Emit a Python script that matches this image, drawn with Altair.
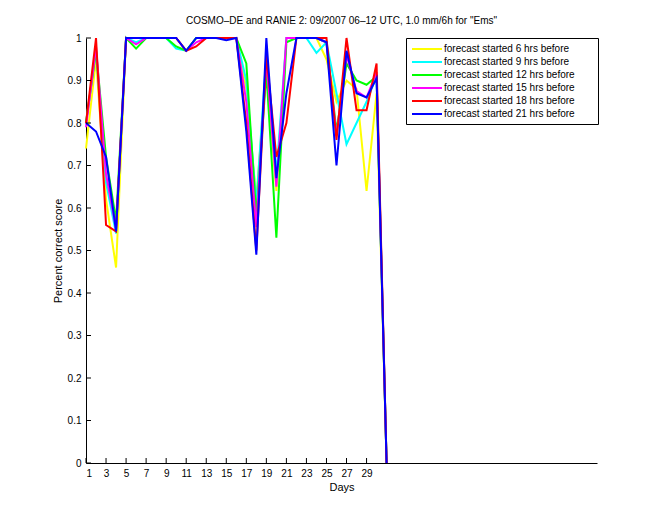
import altair as alt
import pandas as pd

days = list(range(1, 32))
series_names = [
    "forecast started 6 hrs before",
    "forecast started 9 hrs before",
    "forecast started 12 hrs before",
    "forecast started 15 hrs before",
    "forecast started 18 hrs before",
    "forecast started 21 hrs before",
]
colors = ["#ffff00", "#00ffff", "#00ff00", "#ff00ff", "#ff0000", "#0000ff"]

s6 = [0.74, 0.95, 0.62, 0.46, 1, 1, 1, 1, 1, 1, 0.97, 1, 1, 1, 1, 1, 0.88, 0.62, 0.93, 0.64, 1, 1, 1, 1, 0.95, 0.85, 0.9, 0.88, 0.64, 0.87, 0]
s9 = [0.8, 0.97, 0.66, 0.54, 1, 0.99, 1, 1, 1, 0.975, 0.97, 1, 1, 1, 1, 1, 0.9, 0.61, 0.96, 0.68, 1, 1, 1, 0.965, 0.99, 0.87, 0.75, 0.8, 0.85, 0.91, 0]
s12 = [0.8, 0.97, 0.72, 0.57, 1, 0.975, 1, 1, 1, 0.98, 0.97, 1, 1, 1, 1, 1, 0.94, 0.58, 0.92, 0.53, 0.99, 1, 1, 1, 0.99, 0.78, 0.94, 0.9, 0.89, 0.91, 0]
s15 = [0.79, 0.98, 0.68, 0.55, 1, 0.985, 1, 1, 1, 1, 0.97, 0.99, 1, 1, 1, 1, 0.85, 0.555, 0.95, 0.65, 1, 1, 1, 1, 0.99, 0.77, 0.96, 0.875, 0.86, 0.92, 0]
s18 = [0.8, 1.0, 0.56, 0.545, 1, 1, 1, 1, 1, 1, 0.97, 0.98, 1, 1, 1, 1, 0.8, 0.5, 0.96, 0.72, 0.8, 1, 1, 1, 1, 0.76, 1.0, 0.83, 0.83, 0.94, 0]
s21 = [0.8, 0.78, 0.72, 0.545, 1, 1, 1, 1, 1, 1, 0.97, 1, 1, 1, 0.995, 1, 0.78, 0.49, 1.0, 0.67, 0.87, 1, 1, 1, 0.99, 0.70, 0.97, 0.87, 0.86, 0.905, 0]

x_tick_values = list(range(1, 30, 2))
y_tick_values = [round(i * 0.1, 1) for i in range(11)]

rows = []
for name, vals in zip(series_names, [s6, s9, s12, s15, s18, s21]):
    for d, v in zip(days, vals):
        rows.append({"day": d, "score": v, "series": name})
df = pd.DataFrame(rows)
df["order"] = df["series"].map({n: i for i, n in enumerate(series_names)})

W, H = 511, 425
FONT = "Liberation Sans"

xscale = alt.Scale(domain=[1, 52], nice=False, zero=False)
yscale = alt.Scale(domain=[0, 1], nice=False)

x_enc = alt.X("day:Q", scale=xscale, title="Days",
              axis=alt.Axis(values=x_tick_values, ticks=False, labelPadding=5,
                            titlePadding=3, format="d"))
y_enc = alt.Y("score:Q", scale=yscale, title="Percent correct score",
              axis=alt.Axis(values=y_tick_values, ticks=False, labelPadding=5,
                            titlePadding=4, format="~g"))

lines = alt.Chart(df).mark_line(strokeWidth=2).encode(
    x=x_enc,
    y=y_enc,
    color=alt.Color("series:N", sort=series_names,
                    scale=alt.Scale(domain=series_names, range=colors),
                    legend=alt.Legend(title=None, orient="none", legendX=320, legendY=0,
                                      symbolType="M-3,0H3M32.4,0", symbolSize=100, symbolStrokeWidth=2,
                                      symbolOffset=10,
                                      labelFontSize=10, labelFont=FONT, labelOffset=11,
                                      padding=5, rowPadding=2, strokeColor="black",
                                      fillColor="white", cornerRadius=0)),
    detail="series:N",
    order=alt.Order("order:Q"),
)

xt = pd.DataFrame({"day": x_tick_values})
yt = pd.DataFrame({"score": y_tick_values})

xticks = alt.Chart(xt).mark_rule(color="black", strokeWidth=1).encode(
    x=x_enc,
    y=alt.value(H), y2=alt.value(H - 5),
)
yticks = alt.Chart(yt).mark_rule(color="black", strokeWidth=1).encode(
    y=y_enc,
    x=alt.value(0), x2=alt.value(5),
)

chart = alt.layer(lines, xticks, yticks).properties(
    width=W, height=H,
    title=alt.Title('COSMO\u2013DE and RANIE 2: 09/2007 06\u201312 UTC, 1.0 mm/6h for "Ems"',
                    fontSize=10, font=FONT, fontWeight="normal", anchor="middle", offset=7),
    autosize=alt.AutoSizeParams(type="none"),
    padding={"left": 86, "top": 38, "right": 63, "bottom": 57},
).configure_view(stroke=None).configure_axis(
    domainColor="black", labelColor="black", titleColor="black", grid=False,
    labelFont=FONT, titleFont=FONT, labelFontSize=10, titleFontSize=11,
    titleFontWeight="normal", domainWidth=1,
)

chart.save("out.html", embed_options={"renderer": "svg", "actions": False})
